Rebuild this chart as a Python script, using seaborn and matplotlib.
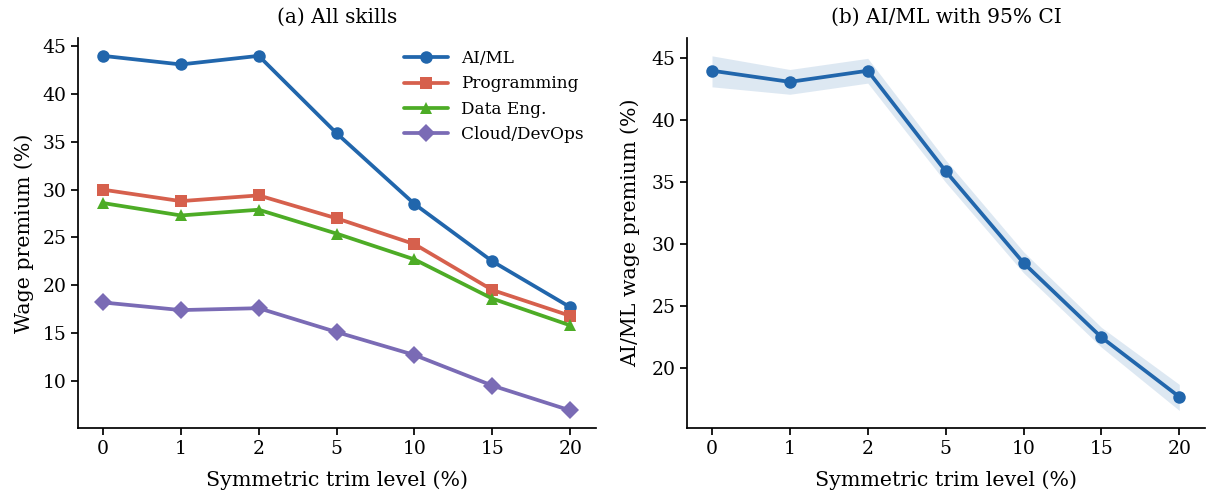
import pandas as pd
import seaborn as sns
import matplotlib.pyplot as plt
import numpy as np

# trim levels and estimates
trim_levels = ['0', '1', '2', '5', '10', '15', '20']
ai_ml = [44.0, 43.1, 44.0, 35.9, 28.5, 22.5, 17.7]
programming = [30.0, 28.8, 29.4, 27.0, 24.3, 19.5, 16.8]
data_eng = [28.6, 27.3, 27.9, 25.4, 22.7, 18.6, 15.8]
cloud_devops = [18.2, 17.4, 17.6, 15.1, 12.7, 9.5, 6.9]
ai_ml_lo = [42.7, 42.1, 43.0, 35.0, 27.7, 21.7, 16.6]
ai_ml_hi = [45.2, 44.1, 45.0, 36.8, 29.4, 23.3, 18.7]

skills = ['AI/ML', 'Programming', 'Data Eng.', 'Cloud/DevOps']
colors = ['#2166AC', '#D6604D', '#4DAC26', '#7A6BB5']
markers = ['o', 's', '^', 'D']

sns.set_theme(style='ticks', rc={'text.color': 'black', 'axes.labelcolor': 'black',
                                 'xtick.color': 'black', 'ytick.color': 'black',
                                 'axes.edgecolor': 'black'})
plt.rcParams['font.family'] = ['DejaVu Serif']

pos = np.arange(len(trim_levels))
df = pd.DataFrame({
    'pos': np.tile(pos, 4),
    'value': ai_ml + programming + data_eng + cloud_devops,
    'skill': np.repeat(skills, len(trim_levels)),
})

fig, (ax1, ax2) = plt.subplots(1, 2, figsize=(12.08, 4.95), dpi=100)
fig.subplots_adjust(left=0.0646, right=0.9975, bottom=0.135, top=0.923, wspace=0.176)

# %% (a) all skills
sns.lineplot(data=df, x='pos', y='value', hue='skill', style='skill',
             palette=colors, markers=markers, dashes=False, linewidth=2.7,
             markersize=9, markeredgewidth=0, ax=ax1)
ax1.set_title('(a) All skills', fontsize=14.5, pad=11)
ax1.set_ylabel('Wage premium (%)', fontsize=14.8, labelpad=6)
ax1.legend(frameon=False, loc='upper right', fontsize=12.2, handlelength=2.6,
           title=None, borderaxespad=0.3)

# %% (b) AI/ML with CI
ax2.fill_between(pos, ai_ml_lo, ai_ml_hi, color='#2166AC', alpha=0.15, linewidth=0)
sns.lineplot(x=pos, y=ai_ml, color='#2166AC', marker='o', linewidth=2.7,
             markersize=9, markeredgewidth=0, ax=ax2)
ax2.set_title('(b) AI/ML with 95% CI', fontsize=14.5, pad=11)
ax2.set_ylabel('AI/ML wage premium (%)', fontsize=14.8, labelpad=8)

for ax in (ax1, ax2):
    ax.set_xlabel('Symmetric trim level (%)', fontsize=14.8, labelpad=9)
    ax.set_xticks(pos)
    ax.set_xticklabels(trim_levels)
    ax.tick_params(labelsize=13.5, length=5)
    ax.set_xlim(-0.32, 6.33)
    sns.despine(ax=ax)

plt.savefig('out.png', dpi=100)
